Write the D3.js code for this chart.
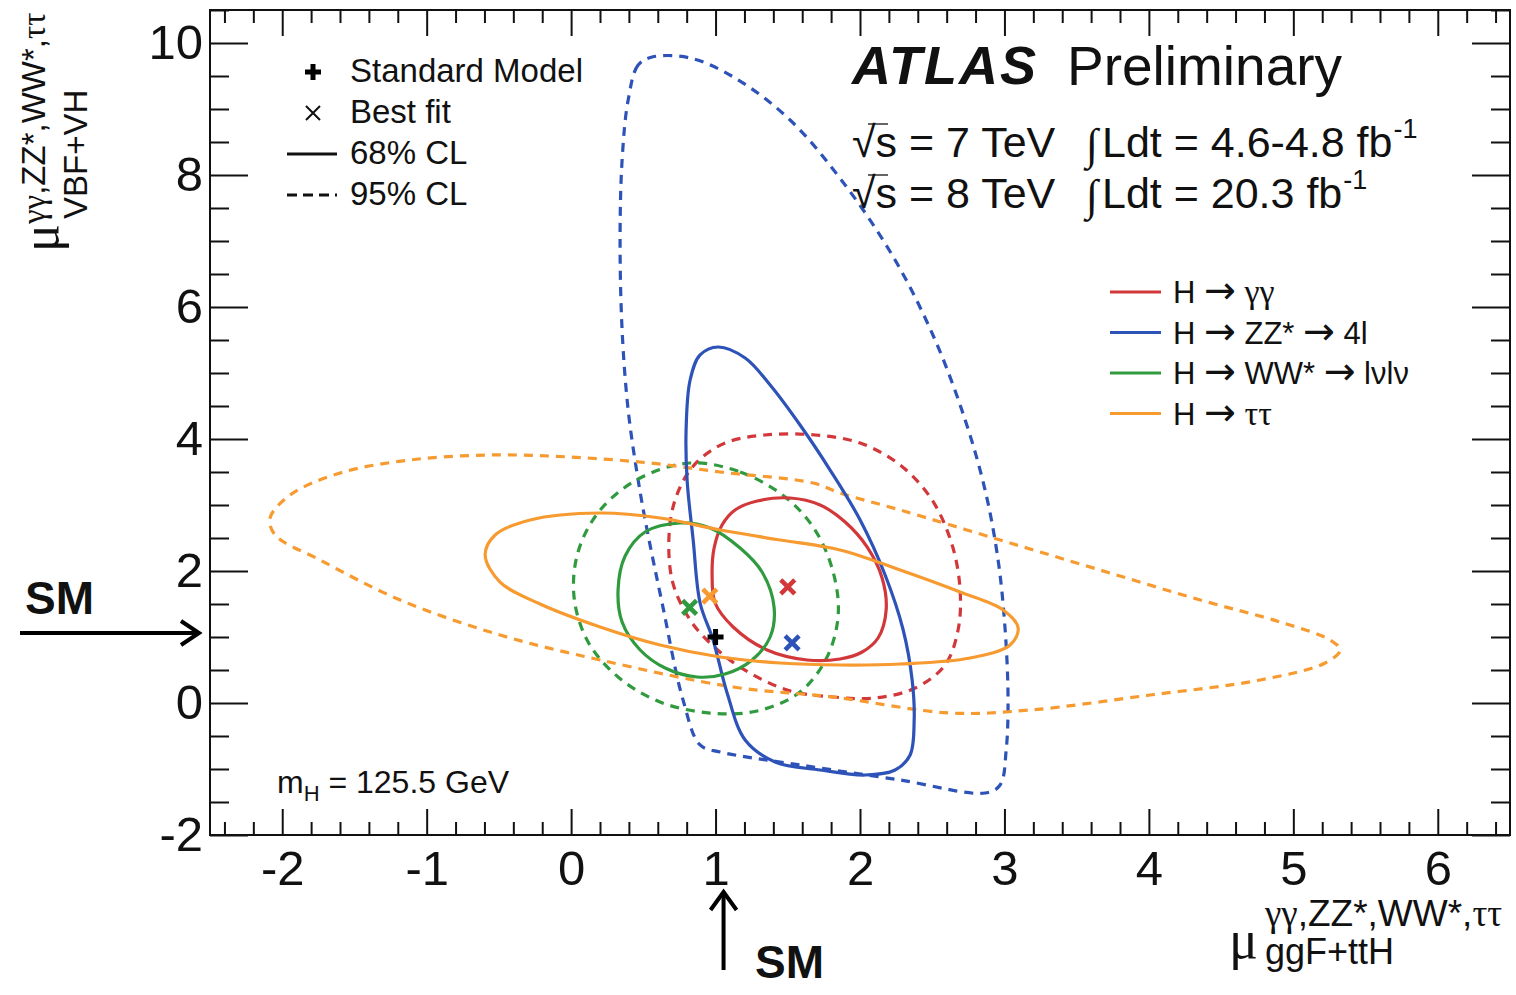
<!DOCTYPE html>
<html><head><meta charset="utf-8">
<script src="https://cdn.jsdelivr.net/npm/d3@7"></script>
<style>
html,body{margin:0;padding:0;background:#fff;}
svg{display:block;}
text{font-family:"Liberation Sans",Arial,Helvetica,sans-serif;fill:#111;}
.gr{font-family:"Liberation Serif","DejaVu Serif",serif;}
.ar{font-family:"DejaVu Sans",sans-serif;}
</style></head>
<body>
<svg id="chart" width="1516" height="995"></svg>
<script>
// ---- data ----
const xMajor = [-2,-1,0,1,2,3,4,5,6];
const yMajor = [-2,0,2,4,6,8,10];
const seriesNames = [
  [["H ",""],["\u2192","ar"],[" ",""],["\u03b3\u03b3","gr"]],
  [["H ",""],["\u2192","ar"],[" ZZ* ",""],["\u2192","ar"],[" 4l",""]],
  [["H ",""],["\u2192","ar"],[" WW* ",""],["\u2192","ar"],[" l\u03bdl\u03bd",""]],
  [["H ",""],["\u2192","ar"],[" ",""],["\u03c4\u03c4","gr"]]
];
const seriesColors = ["#d2373a","#2d52b8","#2f9a3e","#f79a30"];
const smPoint = [1,1];
const bestFit = [[1.50,1.76],[1.53,0.91],[0.82,1.45],[0.96,1.62]];

const gamma68 = [[1.516,3.106],[1.288,3.061],[1.135,2.924],[1.045,2.697],[0.990,2.348],[0.976,1.939],[0.997,1.515],[1.122,1.152],[1.357,0.803],[1.634,0.652],[1.862,0.667],[2.015,0.773],[2.125,0.985],[2.181,1.409],[2.153,1.894],[2.049,2.364],[1.897,2.742],[1.724,3.000]];
const gamma95 = [[1.343,4.061],[1.066,3.939],[0.872,3.652],[0.755,3.273],[0.685,2.727],[0.699,1.864],[0.824,1.258],[0.962,0.909],[1.170,0.545],[1.495,0.197],[1.814,0.091],[2.105,0.076],[2.382,0.227],[2.589,0.576],[2.679,1.106],[2.693,1.712],[2.638,2.394],[2.499,3.076],[2.278,3.606],[2.001,3.939],[1.689,4.061]];
const zz68 = [[1.018,5.394],[0.893,5.273],[0.824,4.894],[0.796,4.136],[0.803,3.379],[0.845,2.470],[0.893,1.515],[0.983,0.955],[1.080,0.152],[1.205,-0.561],[1.412,-0.894],[1.724,-1.015],[2.035,-1.091],[2.243,-1.015],[2.347,-0.788],[2.375,-0.258],[2.361,0.348],[2.299,1.106],[2.174,1.939],[2.001,2.773],[1.793,3.530],[1.585,4.212],[1.378,4.818],[1.205,5.227]];
const zz95 = [[0.561,9.788],[0.464,9.667],[0.395,9.136],[0.353,8.227],[0.339,7.015],[0.353,5.652],[0.395,4.439],[0.464,3.379],[0.526,2.621],[0.630,1.515],[0.775,0.045],[0.893,-0.636],[1.032,-0.742],[1.585,-0.939],[2.278,-1.167],[2.866,-1.364],[2.970,-1.242],[3.012,-0.712],[3.025,0.045],[3.005,1.106],[2.956,2.167],[2.866,3.227],[2.728,4.288],[2.520,5.500],[2.243,6.712],[1.897,7.848],[1.516,8.833],[1.135,9.470],[0.824,9.773]];
const ww68 = [[0.755,2.727],[0.962,2.652],[1.170,2.348],[1.322,1.985],[1.405,1.455],[1.378,1.000],[1.253,0.652],[1.066,0.439],[0.872,0.394],[0.651,0.530],[0.478,0.803],[0.353,1.227],[0.325,1.712],[0.374,2.227],[0.512,2.591]];
const ww95 = [[0.824,3.636],[1.170,3.500],[1.482,3.121],[1.689,2.621],[1.814,1.985],[1.849,1.333],[1.772,0.697],[1.585,0.167],[1.288,-0.121],[0.962,-0.152],[0.616,0.015],[0.325,0.394],[0.118,0.924],[0.021,1.591],[0.048,2.288],[0.201,2.924],[0.478,3.409]];
const tau68 = [[-0.595,2.242],[-0.526,2.545],[-0.284,2.773],[0.201,2.879],[0.616,2.803],[1.032,2.621],[1.447,2.470],[1.862,2.318],[2.278,2.015],[2.693,1.682],[2.991,1.409],[3.095,1.136],[3.039,0.879],[2.762,0.682],[2.278,0.591],[1.862,0.576],[1.447,0.606],[1.032,0.697],[0.616,0.879],[0.201,1.152],[-0.215,1.500],[-0.492,1.833]];
const tau95 = [[-2.084,2.803],[-1.945,3.152],[-1.599,3.485],[-1.115,3.682],[-0.561,3.758],[-0.007,3.727],[0.547,3.636],[1.032,3.500],[1.675,3.333],[1.862,3.182],[2.278,2.924],[2.970,2.470],[3.662,2.015],[4.355,1.561],[4.909,1.227],[5.255,0.955],[5.324,0.803],[5.220,0.606],[4.770,0.348],[4.009,0.121],[3.178,-0.106],[2.624,-0.152],[1.814,0.091],[1.122,0.242],[0.201,0.652],[-0.492,1.030],[-1.184,1.561],[-1.738,2.167],[-2.049,2.545]];

const contours68 = [gamma68, zz68, ww68, tau68];
const contours95 = [gamma95, zz95, ww95, tau95];

// ---- chart ----
const svg = d3.select("#chart");
const x = d3.scaleLinear().domain([-2.5,6.5]).range([210,1510]);
const y = d3.scaleLinear().domain([-2,10.5]).range([835,10]);
const xMinor = d3.range(-2.4,6.41,0.2).map(v=>+v.toFixed(1)).filter(v=>!xMajor.includes(v));
const yMinor = d3.range(-1.5,10.51,0.5).filter(v=>!yMajor.includes(v));

const line = d3.line().x(d=>x(d[0])).y(d=>y(d[1])).curve(d3.curveCatmullRomClosed.alpha(0.5));
const plot = svg.append("g");
plot.append("clipPath").attr("id","clip").append("rect").attr("x",210).attr("y",10).attr("width",1300).attr("height",825);
const cg = plot.append("g").attr("clip-path","url(#clip)");

[0,1,2,3].forEach(i=>{
  cg.append("path").attr("d",line(contours95[i])).attr("fill","none")
    .attr("stroke",seriesColors[i]).attr("stroke-width",3.2).attr("stroke-dasharray","9,7");
});
[0,1,2,3].forEach(i=>{
  cg.append("path").attr("d",line(contours68[i])).attr("fill","none")
    .attr("stroke",seriesColors[i]).attr("stroke-width",3.2);
});

function xMark(g,cx,cy,s,w,col){
  g.append("path").attr("d",`M${cx-s},${cy-s}L${cx+s},${cy+s}M${cx-s},${cy+s}L${cx+s},${cy-s}`)
   .attr("stroke",col).attr("stroke-width",w).attr("fill","none");
}
function plusMark(g,cx,cy,s,w,col){
  g.append("path").attr("d",`M${cx-s},${cy}L${cx+s},${cy}M${cx},${cy-s}L${cx},${cy+s}`)
   .attr("stroke",col).attr("stroke-width",w).attr("fill","none");
}
bestFit.forEach((p,i)=>xMark(cg,x(p[0]),y(p[1]),7,4.5,seriesColors[i]));
plusMark(cg,x(smPoint[0]),y(smPoint[1]),8,5,"#000");

// axes
function styleAxis(g){ g.select(".domain").remove(); g.selectAll("line").attr("stroke","#111").attr("stroke-width",2); }
const fmt = d=>String(d);
svg.append("g").attr("transform","translate(0,835)").call(d3.axisBottom(x).tickValues(xMajor).tickSize(-26).tickPadding(15).tickFormat(fmt)).call(styleAxis);
svg.append("g").attr("transform","translate(0,835)").call(d3.axisBottom(x).tickValues(xMinor).tickSize(-13).tickFormat("")).call(styleAxis);
svg.append("g").attr("transform","translate(0,10)").call(d3.axisTop(x).tickValues(xMajor).tickSize(-26).tickFormat("")).call(styleAxis);
svg.append("g").attr("transform","translate(0,10)").call(d3.axisTop(x).tickValues(xMinor).tickSize(-13).tickFormat("")).call(styleAxis);
svg.append("g").attr("transform","translate(210,0)").call(d3.axisLeft(y).tickValues(yMajor).tickSize(-38).tickPadding(7).tickFormat(fmt)).call(styleAxis);
svg.append("g").attr("transform","translate(210,0)").call(d3.axisLeft(y).tickValues(yMinor).tickSize(-19).tickFormat("")).call(styleAxis);
svg.append("g").attr("transform","translate(1510,0)").call(d3.axisRight(y).tickValues(yMajor).tickSize(-38).tickFormat("")).call(styleAxis);
svg.append("g").attr("transform","translate(1510,0)").call(d3.axisRight(y).tickValues(yMinor).tickSize(-19).tickFormat("")).call(styleAxis);
svg.selectAll(".tick text").attr("font-size",49).attr("font-family","Liberation Sans, Arial, sans-serif").attr("fill","#111");

svg.append("rect").attr("x",210).attr("y",10).attr("width",1300).attr("height",825)
  .attr("fill","none").attr("stroke","#111").attr("stroke-width",2);

// axis titles
function supText(parent,xx,yy,size){
  const t = parent.append("text").attr("x",xx).attr("y",yy).attr("font-size",size);
  t.append("tspan").attr("class","gr").text("\u03b3\u03b3");
  t.append("tspan").text(",ZZ*,WW*,");
  t.append("tspan").attr("class","gr").text("\u03c4\u03c4");
  return t;
}
svg.append("text").attr("class","gr").attr("x",1229).attr("y",958).attr("font-size",54).text("\u03bc");
supText(svg,1265,926,37);
svg.append("text").attr("x",1265).attr("y",964).attr("font-size",36).text("ggF+ttH");
const yt = svg.append("g").attr("transform","translate(58,252) rotate(-90)");
yt.append("text").attr("class","gr").attr("x",0).attr("y",0).attr("font-size",52).text("\u03bc");
supText(yt,28,-13,33);
yt.append("text").attr("x",33).attr("y",29).attr("font-size",33).text("VBF+VH");

// ATLAS label
svg.append("text").attr("x",852).attr("y",84).attr("font-size",54).attr("font-weight","bold").attr("font-style","italic").attr("letter-spacing",2).text("ATLAS");
svg.append("text").attr("x",1067).attr("y",85).attr("font-size",55).text("Preliminary");
function lumiRow(yb,e,lum){
  svg.append("text").attr("x",852).attr("y",yb).attr("font-size",43).text("\u221as = "+e+" TeV");
  svg.append("line").attr("x1",868).attr("x2",888).attr("y1",yb-33).attr("y2",yb-33).attr("stroke","#111").attr("stroke-width",1.3);
  svg.append("text").attr("class","gr").attr("x",1086).attr("y",yb+2).attr("font-size",44).text("\u222b");
  const t = svg.append("text").attr("x",1102).attr("y",yb).attr("font-size",43).text("Ldt = "+lum+" fb");
  const w = t.node().getComputedTextLength();
  svg.append("text").attr("x",1102+w+1).attr("y",yb-19).attr("font-size",27).text("-1");
}
lumiRow(157,"7","4.6-4.8");
lumiRow(208,"8","20.3");

// left legend
const lg = svg.append("g");
plusMark(lg,313,72,8,5,"#000");
xMark(lg,313,113,7,2,"#111");
lg.append("line").attr("x1",287).attr("x2",337).attr("y1",154).attr("y2",154).attr("stroke","#111").attr("stroke-width",3.2);
lg.append("line").attr("x1",287).attr("x2",337).attr("y1",195).attr("y2",195).attr("stroke","#111").attr("stroke-width",3.2).attr("stroke-dasharray","10,6");
["Standard Model","Best fit","68% CL","95% CL"].forEach((s,i)=>{
  lg.append("text").attr("x",350).attr("y",82+i*41).attr("font-size",33).text(s);
});

// series legend
seriesNames.forEach((segs,i)=>{
  const yy = 292+i*40.5;
  svg.append("line").attr("x1",1110).attr("x2",1161).attr("y1",yy).attr("y2",yy).attr("stroke",seriesColors[i]).attr("stroke-width",3.2);
  const t = svg.append("text").attr("x",1173).attr("y",yy+11).attr("font-size",31);
  segs.forEach(sg=>{
    const ts = t.append("tspan").text(sg[0]);
    if(sg[1]==="ar") ts.attr("class","ar").attr("font-size",38);
    if(sg[1]==="gr") ts.attr("class","gr").attr("font-size",34);
  });
});

// mH label
const mh = svg.append("text").attr("x",277).attr("y",793).attr("font-size",32);
mh.append("tspan").text("m");
mh.append("tspan").attr("font-size",22).attr("dy",8).text("H");
mh.append("tspan").attr("dy",-8).text(" = 125.5 GeV");

// SM arrows
const ax = svg.append("g").attr("stroke","#000").attr("stroke-width",4).attr("fill","none");
const ay = y(1)-4;
ax.append("line").attr("x1",20).attr("x2",199).attr("y1",ay).attr("y2",ay);
ax.append("path").attr("d",`M181,${ay-12}L199,${ay}L181,${ay+12}`);
svg.append("text").attr("x",25).attr("y",614).attr("font-size",46).attr("font-weight","bold").text("SM");
const axx = x(1)+8;
ax.append("line").attr("x1",axx).attr("x2",axx).attr("y1",970).attr("y2",892);
ax.append("path").attr("d",`M${axx-13},${910}L${axx},${892}L${axx+13},${910}`);
svg.append("text").attr("x",755).attr("y",978).attr("font-size",46).attr("font-weight","bold").text("SM");
</script>
</body></html>
